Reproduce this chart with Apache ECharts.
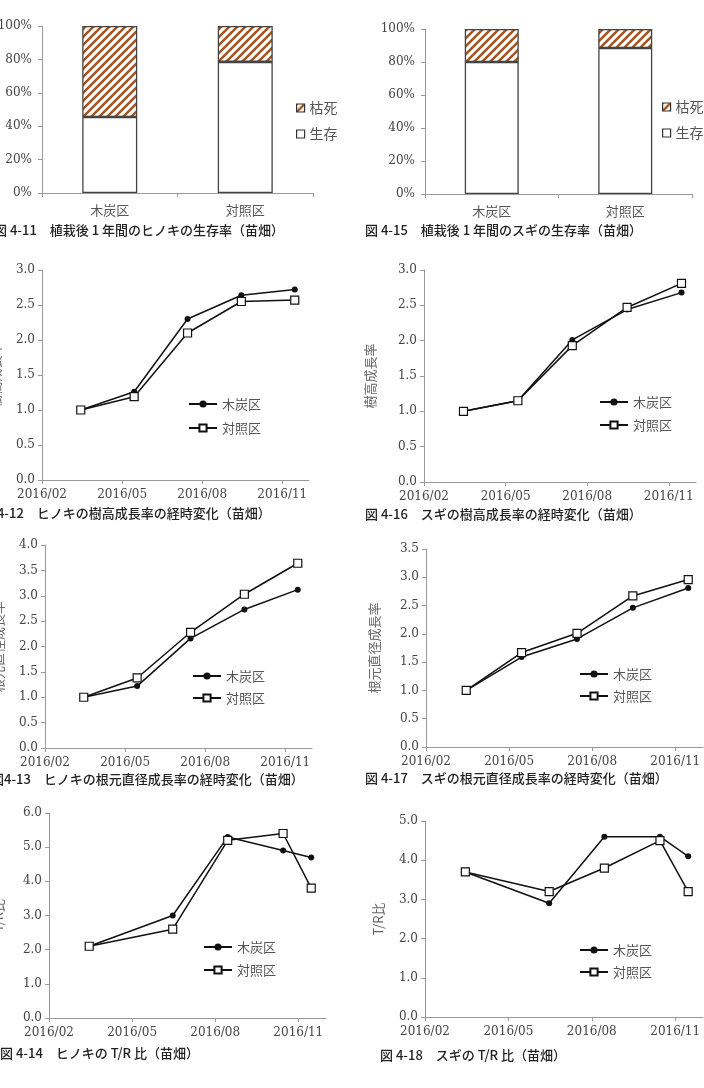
<!DOCTYPE html>
<html>
<head>
<meta charset="utf-8">
<script src="https://cdn.jsdelivr.net/npm/echarts@6/dist/echarts.min.js"></script>
<style>
html, body { margin: 0; padding: 0; background: #fff; }
#chart { width: 704px; height: 1088px; }
</style>
</head>
<body>
<div id="chart"></div>
<script>
// --- data ---
var plots = ['木炭区', '対照区'];
var survHinoki = [45.5, 78.5];
var deadHinoki = [54.5, 21.5];
var survSugi = [80, 88.5];
var deadSugi = [20, 11.5];

var monthTicks = ['2016/02', '2016/05', '2016/08', '2016/11'];
var growthDates = ['2016-03-15', '2016-05-15', '2016-07-15', '2016-09-15', '2016-11-15'];
var trDates = ['2016-03-15', '2016-06-15', '2016-08-15', '2016-10-15', '2016-11-15'];

var hinokiHeightSumi = [1.0, 1.26, 2.30, 2.64, 2.72];
var hinokiHeightCtrl = [1.0, 1.19, 2.10, 2.55, 2.57];
var sugiHeightSumi = [1.0, 1.15, 2.01, 2.44, 2.68];
var sugiHeightCtrl = [1.0, 1.15, 1.93, 2.47, 2.81];
var hinokiDiamSumi = [1.0, 1.22, 2.16, 2.73, 3.12];
var hinokiDiamCtrl = [1.0, 1.38, 2.28, 3.03, 3.64];
var sugiDiamSumi = [1.0, 1.59, 1.91, 2.46, 2.81];
var sugiDiamCtrl = [1.0, 1.67, 2.01, 2.67, 2.96];
var hinokiTRSumi = [2.1, 3.0, 5.3, 4.9, 4.7];
var hinokiTRCtrl = [2.1, 2.6, 5.2, 5.4, 3.8];
var sugiTRSumi = [3.7, 2.9, 4.6, 4.6, 4.1];
var sugiTRCtrl = [3.7, 3.2, 3.8, 4.5, 3.2];

var SERIF = '"DejaVu Serif", serif';
var JP = '"Noto Sans CJK JP", sans-serif';
var AXIS = '#9a9a9a';
var INK = '#111';

// months since 2016/02/01
function toMonth(s) {
  var p = s.split('-').map(Number);
  var dim = new Date(p[0], p[1], 0).getDate();
  return (p[0] - 2016) * 12 + (p[1] - 2) + (p[2] - 1) / dim;
}

// hatch pattern for 枯死
var hatch = document.createElement('canvas');
hatch.width = 8; hatch.height = 8;
(function () {
  var c = hatch.getContext('2d');
  c.fillStyle = '#fff';
  c.fillRect(0, 0, 8, 8);
  c.strokeStyle = '#a5561c';
  c.lineWidth = 2.6;
  [0, 8, 16].forEach(function (k) {
    c.beginPath();
    c.moveTo(-2, k + 2);
    c.lineTo(k + 2, -2);
    c.stroke();
  });
})();

var grids = [], xAxes = [], yAxes = [], series = [], legends = [];

function addGrid(box) {
  grids.push({ left: box[0], top: box[1], width: box[2], height: box[3],
    containLabel: false, outerBoundsMode: 'none' });
  return grids.length - 1;
}

function axisBase() {
  return {
    axisLine: { show: true, lineStyle: { color: AXIS, width: 1 } },
    axisTick: { show: true, length: 4, lineStyle: { color: AXIS } },
    splitLine: { show: false }
  };
}

function addBarPanel(box, surv, dead, leg) {
  var i = addGrid(box);
  var xa = axisBase();
  xa.type = 'category'; xa.gridIndex = i; xa.data = plots;
  xa.axisLabel = { margin: 11, fontFamily: JP, fontSize: 13, color: '#555' };
  xAxes.push(xa);
  var ya = axisBase();
  ya.type = 'value'; ya.gridIndex = i; ya.min = 0; ya.max = 100; ya.interval = 20;
  ya.axisLabel = { margin: 10, fontFamily: SERIF, fontSize: 12, color: '#444',
    formatter: function (v) { return v + '%'; } };
  yAxes.push(ya);
  series.push({
    type: 'bar', name: '生存', xAxisIndex: i, yAxisIndex: i, stack: 's' + i,
    barWidth: box[4], data: surv,
    itemStyle: { color: '#fff', borderColor: '#444', borderWidth: 1.3 }
  });
  series.push({
    type: 'bar', name: '枯死', xAxisIndex: i, yAxisIndex: i, stack: 's' + i,
    barWidth: box[4], data: dead,
    itemStyle: { color: { image: hatch, repeat: 'repeat' }, borderColor: '#444', borderWidth: 1.3 }
  });
  legends.push({
    data: ['枯死', '生存'], orient: 'vertical', left: leg[0], top: leg[1],
    padding: 0, itemGap: 12, itemWidth: 8, itemHeight: 8, icon: 'rect',
    itemStyle: { borderWidth: 1.2, borderColor: '#333' },
    textStyle: { fontFamily: JP, fontSize: 14, color: '#555', lineHeight: 14 },
    selectedMode: false
  });
}

function addLinePanel(box, yMax, yStep, yName, nameGap, dates, sumi, ctrl, leg) {
  var i = addGrid(box);
  var xa = axisBase();
  xa.type = 'value'; xa.gridIndex = i; xa.min = 0; xa.max = 10;
  xa.axisTick.customValues = [0, 3, 6, 9];
  xa.axisLabel = { margin: 9, fontFamily: SERIF, fontSize: 12, color: '#444',
    customValues: [0, 3, 6, 9],
    formatter: function (v) { return monthTicks[Math.round(v / 3)]; } };
  xAxes.push(xa);
  var ya = axisBase();
  ya.type = 'value'; ya.gridIndex = i; ya.min = 0; ya.max = yMax; ya.interval = yStep;
  ya.name = yName; ya.nameLocation = 'middle'; ya.nameGap = nameGap;
  ya.nameTextStyle = { fontFamily: JP, fontSize: 13, color: '#666' };
  ya.axisLabel = { margin: 7, fontFamily: SERIF, fontSize: 12, color: '#444',
    formatter: function (v) { return v.toFixed(1); } };
  yAxes.push(ya);
  var xs = dates.map(toMonth);
  series.push({
    type: 'line', name: '木炭区', xAxisIndex: i, yAxisIndex: i,
    data: xs.map(function (x, k) { return [x, sumi[k]]; }),
    symbol: 'circle', symbolSize: 6,
    lineStyle: { color: INK, width: 1.5 },
    itemStyle: { color: INK }
  });
  series.push({
    type: 'line', name: '対照区', xAxisIndex: i, yAxisIndex: i,
    data: xs.map(function (x, k) { return [x, ctrl[k]]; }),
    symbol: 'rect', symbolSize: 8,
    lineStyle: { color: INK, width: 1.5 },
    itemStyle: { color: '#fff', borderColor: INK, borderWidth: 1.2 }
  });
  legends.push({
    data: ['木炭区', '対照区'], orient: 'vertical', left: leg[0], top: leg[1],
    padding: 0, itemGap: leg[2], itemWidth: 28, itemHeight: 9,
    textStyle: { fontFamily: JP, fontSize: 13, color: '#555', lineHeight: 14 },
    selectedMode: false
  });
}

addBarPanel([42, 26, 271, 167, 55], survHinoki, deadHinoki, [296, 101]);
addBarPanel([425, 29, 267, 165, 54], survSugi, deadSugi, [662, 100]);
addLinePanel([42, 270, 267, 210], 3, 0.5, '樹高成長率', 40, growthDates, hinokiHeightSumi, hinokiHeightCtrl, [188, 397, 10]);
addLinePanel([424, 270, 272, 212], 3, 0.5, '樹高成長率', 47, growthDates, sugiHeightSumi, sugiHeightCtrl, [599, 395, 9]);
addLinePanel([45, 545, 267, 203], 4, 0.5, '根元直径成長率', 40, growthDates, hinokiDiamSumi, hinokiDiamCtrl, [192, 669, 8]);
addLinePanel([426, 549, 277, 198], 3.5, 0.5, '根元直径成長率', 45, growthDates, sugiDiamSumi, sugiDiamCtrl, [579, 667, 8]);
addLinePanel([49, 813, 277, 205], 6, 1, 'T/R比', 44, trDates, hinokiTRSumi, hinokiTRCtrl, [203, 940, 9]);
addLinePanel([425, 821, 278, 196], 5, 1, 'T/R比', 40, trDates, sugiTRSumi, sugiTRCtrl, [579, 943, 8]);

var captions = [
  [-6, 230, '図 4-11　植栽後 1 年間のヒノキの生存率（苗畑）'],
  [365, 230, '図 4-15　植栽後 1 年間のスギの生存率（苗畑）'],
  [-19, 513, '図 4-12　ヒノキの樹高成長率の経時変化（苗畑）'],
  [365, 514, '図 4-16　スギの樹高成長率の経時変化（苗畑）'],
  [-9, 779, '図4-13　ヒノキの根元直径成長率の経時変化（苗畑）'],
  [365, 778, '図 4-17　スギの根元直径成長率の経時変化（苗畑）'],
  [0, 1053, '図 4-14　ヒノキの T/R 比（苗畑）'],
  [380, 1055, '図 4-18　スギの T/R 比（苗畑）']
];

var chart = echarts.init(document.getElementById('chart'));
chart.setOption({
  animation: false,
  backgroundColor: '#fff',
  grid: grids,
  xAxis: xAxes,
  yAxis: yAxes,
  legend: legends,
  series: series,
  graphic: captions.map(function (c) {
    return {
      type: 'text', x: c[0], y: c[1],
      style: { text: c[2], font: '500 13px ' + JP, fill: '#222', verticalAlign: 'middle' }
    };
  })
});
</script>
</body>
</html>
